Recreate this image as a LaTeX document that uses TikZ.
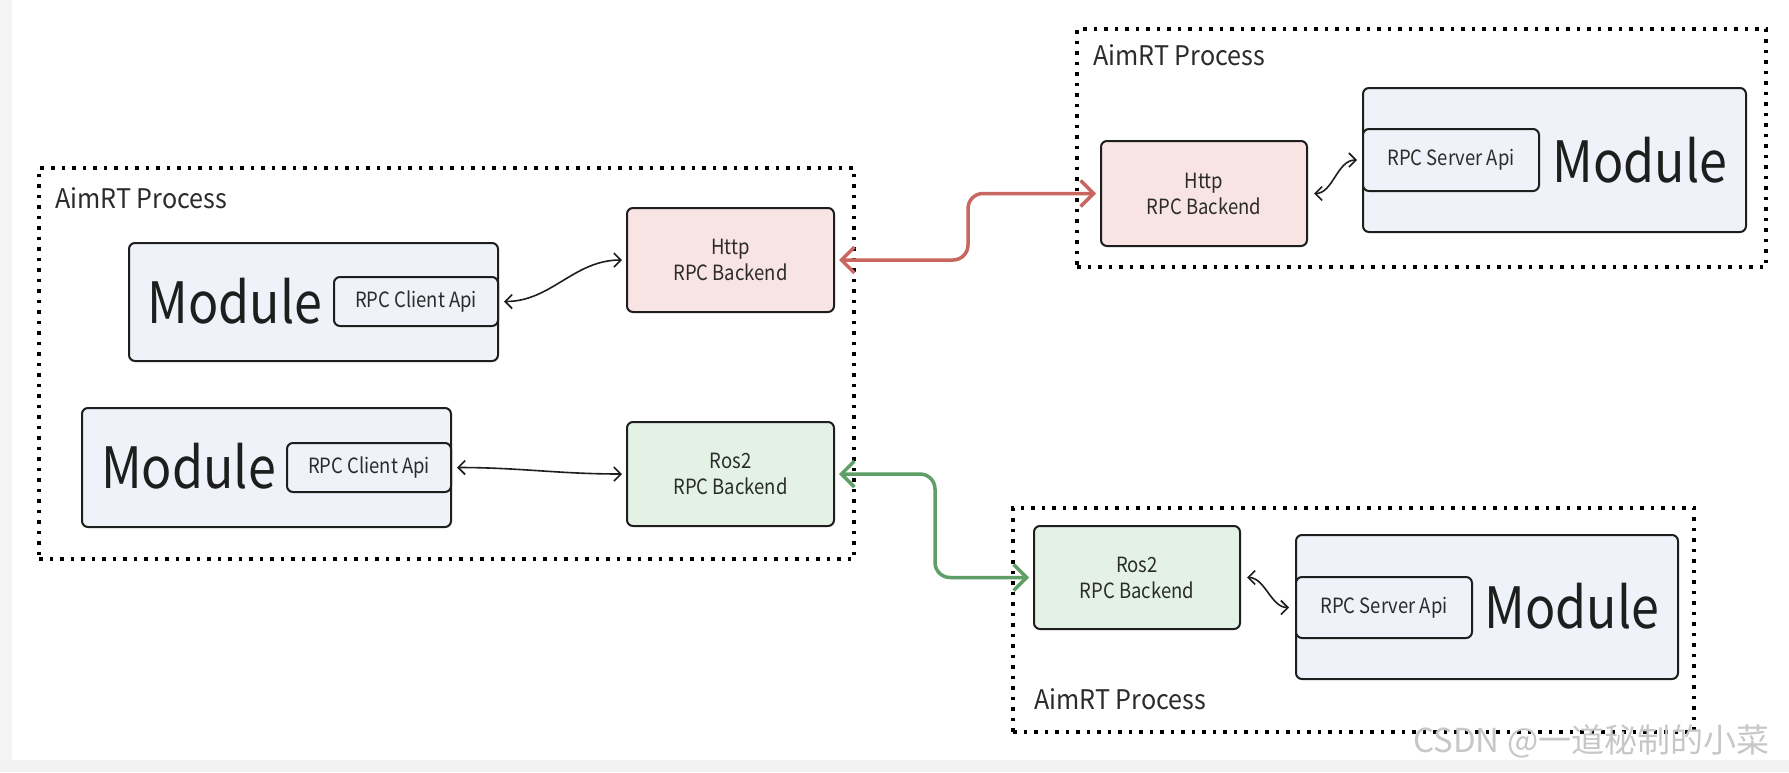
\documentclass[tikz,border=0pt]{standalone}
\usepackage{fontspec}
\setmainfont{Noto Sans CJK SC}[FakeStretch=0.88]
\newfontfamily\labelfont{Noto Sans CJK SC}[FakeStretch=0.93]
\newfontfamily\wmfont{Noto Sans CJK SC}
\usetikzlibrary{arrows.meta}
\definecolor{modfill}{HTML}{EFF2F9}
\definecolor{httpfill}{HTML}{F9E4E4}
\definecolor{rosfill}{HTML}{E3F2E4}
\definecolor{redline}{HTML}{C8675F}
\definecolor{greenline}{HTML}{5F9E66}
\definecolor{ink}{HTML}{1E1E1E}
\definecolor{txt}{HTML}{2B2B2B}
\tikzset{
  procbox/.style={draw=black, line width=3.5pt, dash pattern=on 3.5pt off 7pt, inner sep=0pt},
  box/.style={draw=ink, line width=2pt, rounded corners=6pt, inner sep=0pt, text=txt,
    font=\fontsize{21}{26}\selectfont, align=center},
  modbox/.style={box, fill=modfill},
  httpbox/.style={box, fill=httpfill},
  rosbox/.style={box, fill=rosfill},
  bigtext/.style={anchor=base, inner sep=0pt, text=ink, font=\fontsize{57}{60}\selectfont},
  proclabel/.style={anchor=base west, inner sep=0pt, text=txt, font=\labelfont\fontsize{27}{30}\selectfont},
  link/.style={line width=3.5pt, line cap=round, line join=round, rounded corners=15pt,
    >={Straight Barb[length=13pt,width=26pt]}, <->},
  thinlink/.style={line width=1.6pt, draw=ink, >={Straight Barb[length=7pt,width=14pt]}, <->}
}
\begin{document}
\begin{tikzpicture}[x=1pt,y=-1pt]
\useasboundingbox (0,0) rectangle (1789,772);
\fill[white] (0,0) rectangle (1789,772);
\fill[black!4] (0,0) rectangle (12,772);
\fill[black!5] (0,760) rectangle (1789,772);

% left process
\node[procbox, minimum width=815pt, minimum height=391pt] (procL) at (446.5,363.5) {};
\node[proclabel] (labL) at (55,208) {AimRT Process};
\node[modbox, minimum width=369pt, minimum height=118pt] (modL1) at (313.5,302) {};
\node[box, fill=modfill, minimum width=164pt, minimum height=49pt] (caL1) at (416,301.5) {RPC Client Api};
\node[bigtext] (mtL1) at (235,323) {Module};
\node[httpbox, minimum width=207pt, minimum height=104pt] (httpL) at (730.5,260) {Http\\RPC Backend};
\node[modbox, minimum width=369pt, minimum height=119pt] (modL2) at (266.5,467.5) {};
\node[box, fill=modfill, minimum width=164pt, minimum height=49pt] (caL2) at (369,467.5) {RPC Client Api};
\node[bigtext] (mtL2) at (188.5,488) {Module};
\node[rosbox, minimum width=207pt, minimum height=104pt] (rosL) at (730.5,474) {Ros2\\RPC Backend};

% top right process
\node[procbox, minimum width=689pt, minimum height=238pt] (procTR) at (1421.5,148) {};
\node[proclabel] (labTR) at (1093,65) {AimRT Process};
\node[httpbox, minimum width=206pt, minimum height=105pt] (httpR) at (1204,193.5) {Http\\RPC Backend};
\node[modbox, minimum width=383pt, minimum height=144pt] (modR) at (1554.5,160) {};
\node[box, fill=modfill, minimum width=176pt, minimum height=62pt] (saR) at (1451,160) {RPC Server Api};
\node[bigtext] (mtR) at (1640,182) {Module};

% bottom right process
\node[procbox, minimum width=681pt, minimum height=224pt] (procBR) at (1353.5,620) {};
\node[proclabel] (labBR) at (1034,709) {AimRT Process};
\node[rosbox, minimum width=206pt, minimum height=103pt] (rosR) at (1137,577.5) {Ros2\\RPC Backend};
\node[modbox, minimum width=382pt, minimum height=144pt] (modBR) at (1487,607) {};
\node[box, fill=modfill, minimum width=176pt, minimum height=61pt] (saBR) at (1384,607.5) {RPC Server Api};
\node[bigtext] (mtBR) at (1572,628) {Module};

% connectors
\draw[link, draw=redline, shorten <=4pt, shorten >=4pt] (httpL.east) -- ([xshift=133pt]httpL.east) |- (httpR.west);
\draw[link, draw=greenline, shorten <=4pt, shorten >=4pt] (rosL.east) -- ([xshift=100pt]rosL.east) |- (rosR.west);
\draw[thinlink, shorten <=5pt, shorten >=4pt] (caL1.east) to[out=0,in=180] (httpL.west);
\draw[thinlink, shorten <=5pt, shorten >=4pt] (caL2.east) to[out=0,in=180] (rosL.west);
\draw[thinlink, shorten <=6pt, shorten >=5pt] (httpR.east) to[out=0,in=180] (saR.west);
\draw[thinlink, shorten <=6pt, shorten >=6pt] (rosR.east) to[out=0,in=180] (saBR.west);

% watermark
\node[anchor=base west, inner sep=0pt, text=black!22, font=\wmfont\fontsize{33}{36}\selectfont] (wm) at (1413,752) {CSDN @一道秘制的小菜};
\end{tikzpicture}
\end{document}
